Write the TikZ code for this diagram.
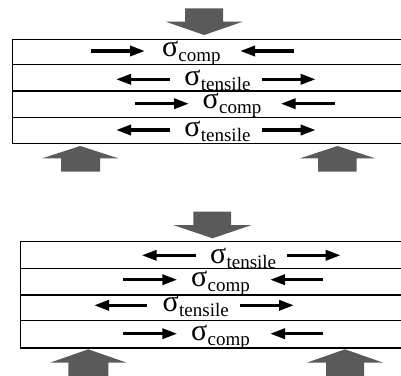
\documentclass[tikz,border=0pt]{standalone}
\usepackage{fontspec}
\setmainfont{Liberation Serif}
\usetikzlibrary{arrows.meta}
\definecolor{load}{RGB}{90,90,90}
\newcommand\sigsub[1]{{\fontsize{30}{30}\selectfont σ}\kern0.3pt\raisebox{-5pt}{\fontsize{19}{19}\selectfont #1}}
\tikzset{
  layer/.style={line width=1.5pt},
  force/.style={line width=3.3pt,-{Triangle[length=15pt,width=10pt]}},
  stress/.style={inner sep=0pt,anchor=base west},
  loadarrow/.style={fill=load}
}
\begin{document}
\begin{tikzpicture}[x=1pt,y=-1pt]
\useasboundingbox (0,0) rectangle (401,375);
\clip (0,0) rectangle (401,375);
% ---------------- top figure ----------------
\fill[loadarrow] (185,8.3) -- (223,8.3) -- (223,21.7) -- (242.7,21.7) -- (204.2,35) -- (165.7,21.7) -- (185,21.7) -- cycle;
\draw[layer] (12.7,39.3) rectangle (420,143.3);
\draw[layer] (12.7,64.3) -- (420,64.3);
\draw[layer] (12.7,91) -- (420,91);
\draw[layer] (12.7,117.3) -- (420,117.3);
\fill[loadarrow] (61,171.7) -- (100,171.7) -- (100,158.3) -- (118.3,158.3) -- (80.2,146) -- (42.3,158.3) -- (61,158.3) -- cycle;
\fill[loadarrow] (318,171.7) -- (356.7,171.7) -- (356.7,158.3) -- (375,158.3) -- (337.5,146) -- (300,158.3) -- (318,158.3) -- cycle;
% row 1
\coordinate (a1) at (91,51); \coordinate (a2) at (145,51);
\coordinate (a3) at (294,51); \coordinate (a4) at (240,51);
\draw[force] (a1) -- (a2);
\draw[force] (a3) -- (a4);
\node[stress] (t1) at (161.8,56) {\sigsub{comp}};
% row 2
\coordinate (b1) at (170,79.3); \coordinate (b2) at (116,79.3);
\coordinate (b3) at (261.7,79.3); \coordinate (b4) at (315.7,79.3);
\draw[force] (b1) -- (b2);
\draw[force] (b3) -- (b4);
\node[stress] (t2) at (184.2,85.3) {\sigsub{tensile}};
% row 3
\coordinate (c1) at (135,103.7); \coordinate (c2) at (189,103.7);
\coordinate (c3) at (334.7,103.7); \coordinate (c4) at (280.7,103.7);
\draw[force] (c1) -- (c2);
\draw[force] (c3) -- (c4);
\node[stress] (t3) at (202.5,108) {\sigsub{comp}};
% row 4
\coordinate (d1) at (170,130); \coordinate (d2) at (116,130);
\coordinate (d3) at (261.7,130); \coordinate (d4) at (315.7,130);
\draw[force] (d1) -- (d2);
\draw[force] (d3) -- (d4);
\node[stress] (t4) at (184.2,136.7) {\sigsub{tensile}};
% ---------------- bottom figure ----------------
\fill[loadarrow] (193.3,211.7) -- (231,211.7) -- (231,225) -- (251.7,225) -- (212.5,238.3) -- (173.3,225) -- (193.3,225) -- cycle;
\draw[layer] (20.7,241.7) rectangle (420,348);
\draw[layer] (20.7,268.7) -- (420,268.7);
\draw[layer] (20.7,295) -- (420,295);
\draw[layer] (20.7,320.7) -- (420,320.7);
\fill[loadarrow] (68.3,380) -- (108.3,380) -- (108.3,362.7) -- (126.7,362.7) -- (88.3,349.3) -- (50,362.7) -- (68.3,362.7) -- cycle;
\fill[loadarrow] (326,380) -- (364,380) -- (364,362.7) -- (383.3,362.7) -- (345,349.3) -- (306.7,362.7) -- (326,362.7) -- cycle;
% row 1
\coordinate (e1) at (196,255.3); \coordinate (e2) at (141.7,255.3);
\coordinate (e3) at (287.3,255.3); \coordinate (e4) at (340.7,255.3);
\draw[force] (e1) -- (e2);
\draw[force] (e3) -- (e4);
\node[stress] (u1) at (209.9,263) {\sigsub{tensile}};
% row 2
\coordinate (f1) at (123.3,279.7); \coordinate (f2) at (177.3,279.7);
\coordinate (f3) at (323.3,279.7); \coordinate (f4) at (270,279.7);
\draw[force] (f1) -- (f2);
\draw[force] (f3) -- (f4);
\node[stress] (u2) at (190.9,286.3) {\sigsub{comp}};
% row 3
\coordinate (g1) at (146.7,305.3); \coordinate (g2) at (94,305.3);
\coordinate (g3) at (240,305.3); \coordinate (g4) at (294,305.3);
\draw[force] (g1) -- (g2);
\draw[force] (g3) -- (g4);
\node[stress] (u3) at (162.5,311.3) {\sigsub{tensile}};
% row 4
\coordinate (h1) at (123.3,333.7); \coordinate (h2) at (177.3,333.7);
\coordinate (h3) at (323.3,333.7); \coordinate (h4) at (270,333.7);
\draw[force] (h1) -- (h2);
\draw[force] (h3) -- (h4);
\node[stress] (u4) at (190.9,340.3) {\sigsub{comp}};
\end{tikzpicture}
\end{document}
